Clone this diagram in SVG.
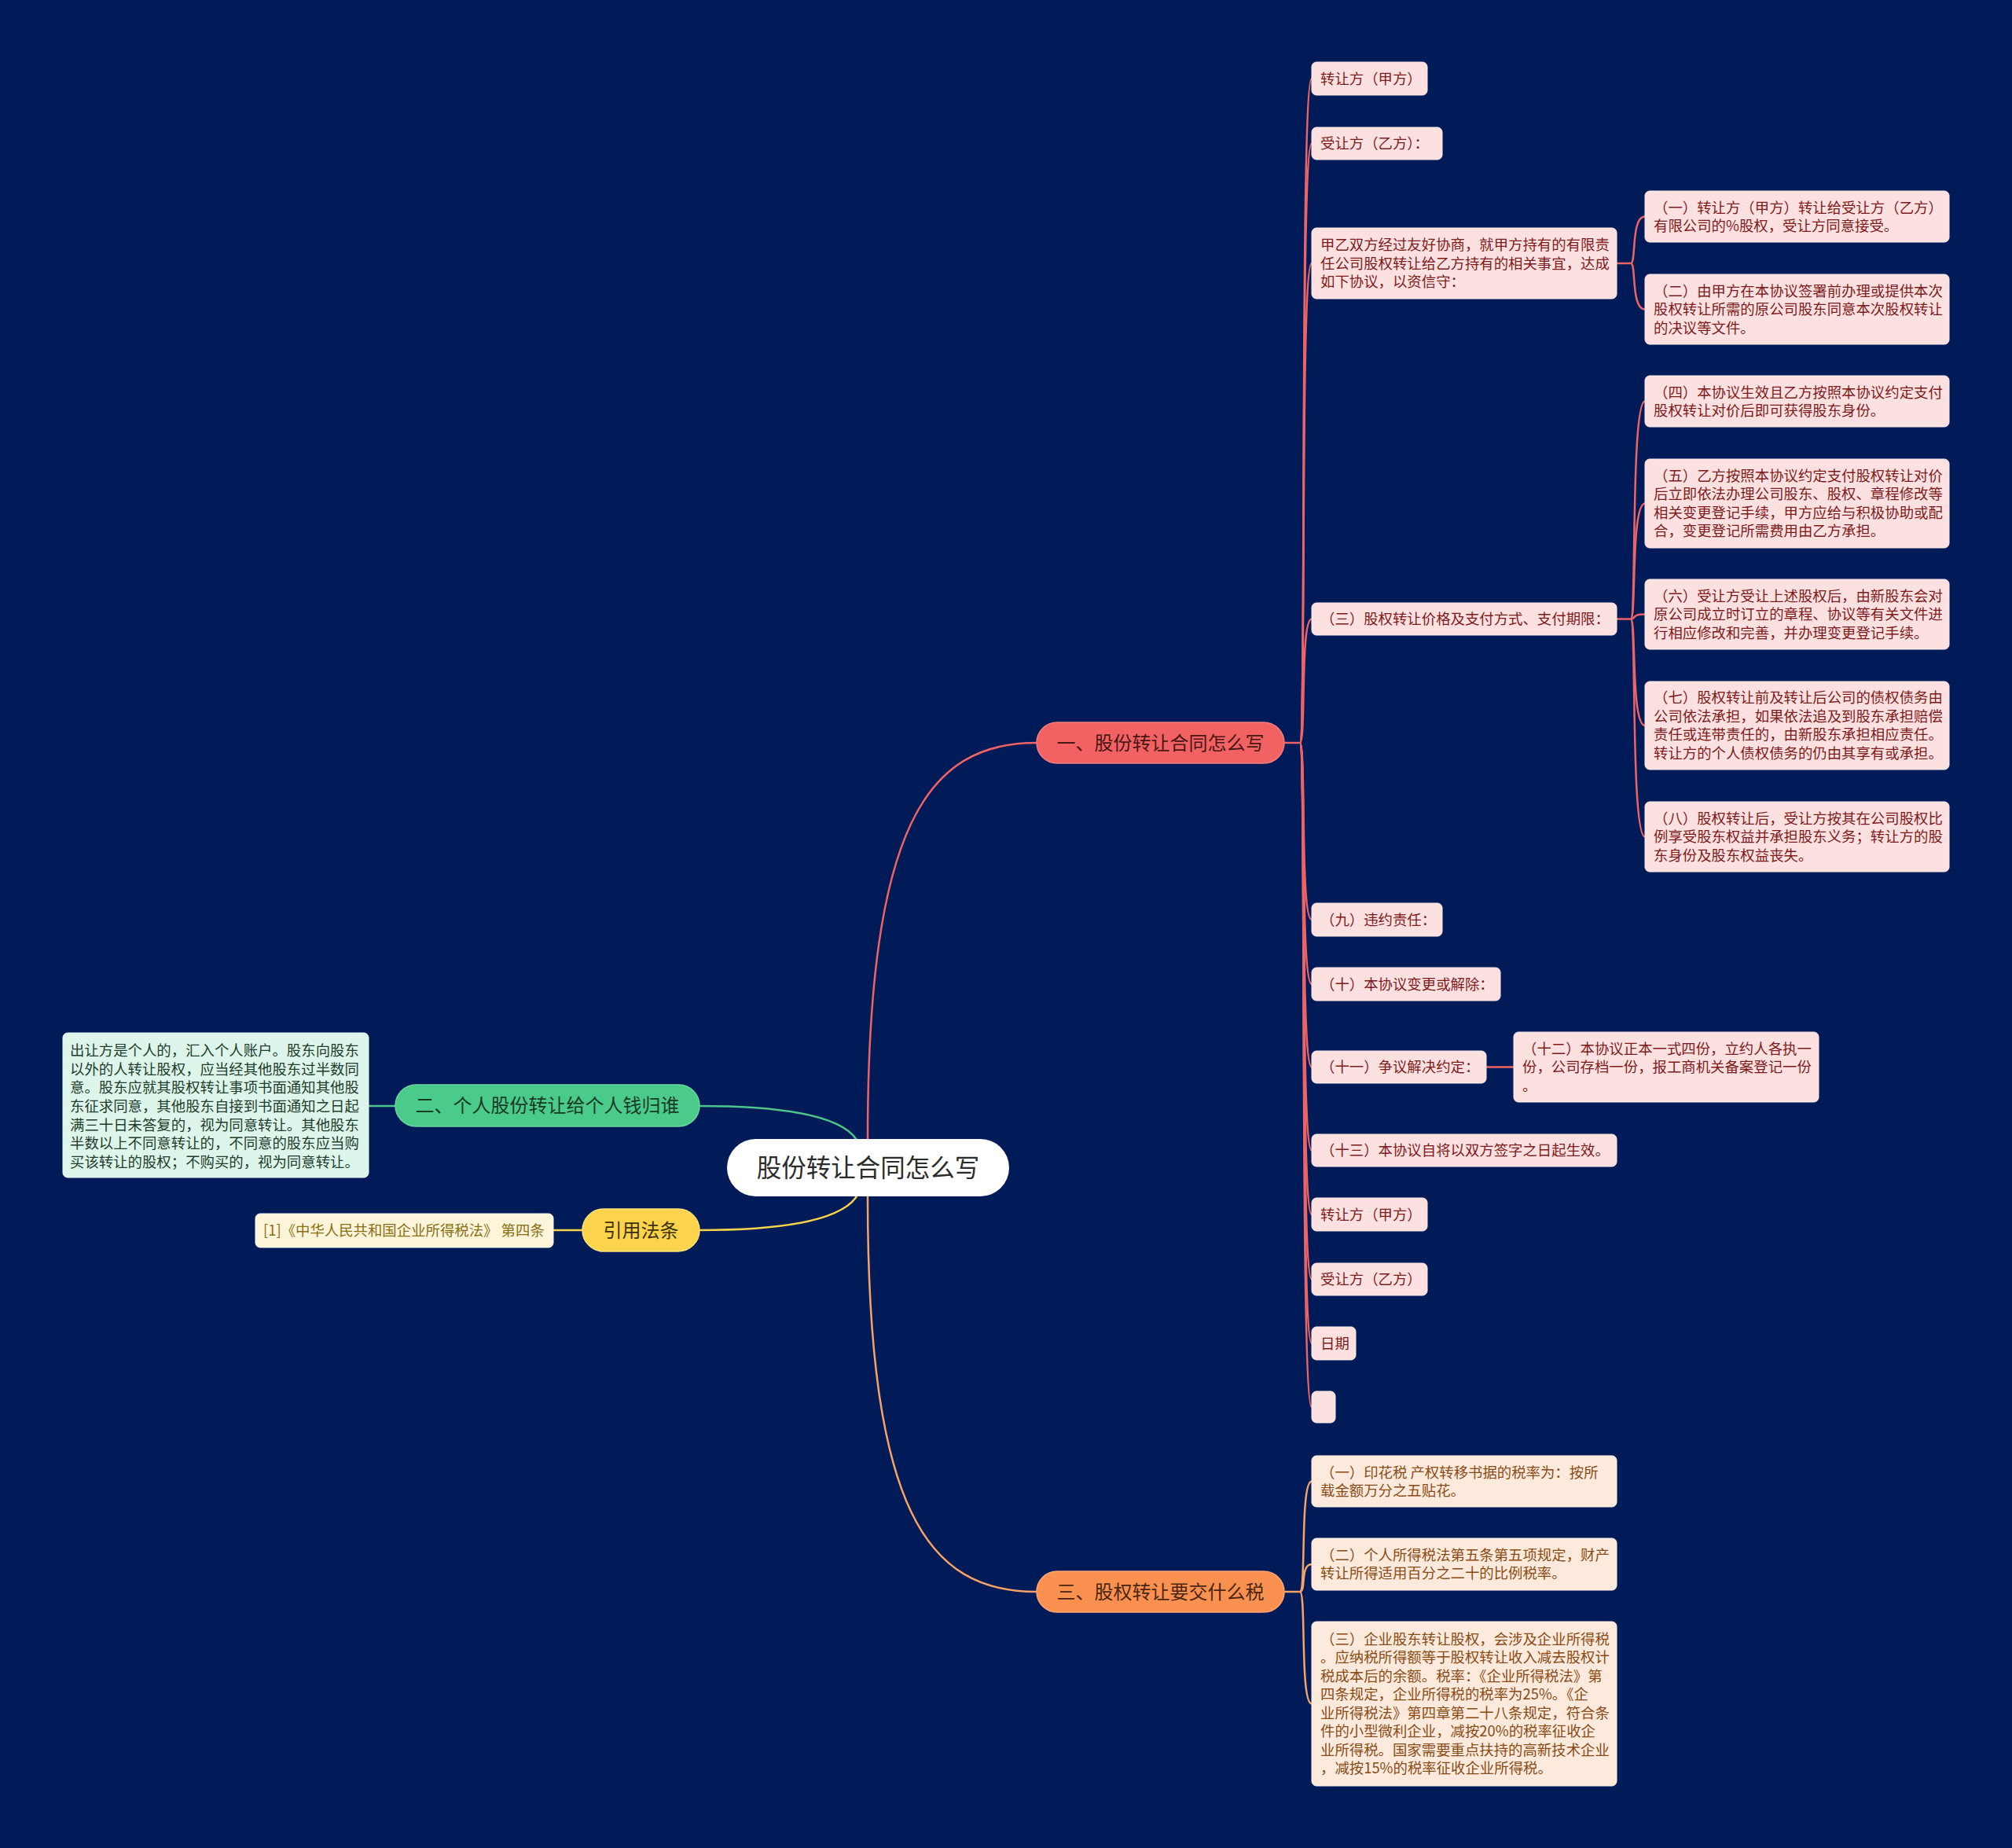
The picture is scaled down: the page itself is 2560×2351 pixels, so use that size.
<svg xmlns="http://www.w3.org/2000/svg" width="2560" height="2351" viewBox="0 0 2560 2351">
<style>
text{font-family:"Noto Sans CJK SC","Noto Sans",sans-serif;}
.t{font-size:18.4px;}
.tr{fill:#7d1a1a;}
.to{fill:#8a4a14;}
.tg{fill:#1e3d2c;}
.ty{fill:#8a6e12;}
.bp{fill:#fde1e1;stroke:#fbeaea;stroke-width:1;}
.bo{fill:#fdeadc;stroke:#fdf2ea;stroke-width:1;}
.bg{fill:#ddf5ea;stroke:#ecfaf3;stroke-width:1;}
.by{fill:#fcf5da;stroke:#fdf9ea;stroke-width:1;}
.main{font-size:24px;text-anchor:middle;}
.cr{fill:none;stroke:#ee6464;stroke-width:2.5;}
.co{fill:none;stroke:#f7a266;stroke-width:2.5;}
.cg{fill:none;stroke:#4cc48a;stroke-width:2.5;}
.cy{fill:none;stroke:#f5d34a;stroke-width:2.5;}
</style>
<rect x="0" y="0" width="2560" height="2351" fill="#011b58"/>

<g id="connectors">
<path class="cr" d="M1104 1450 C1104 1050 1180 945 1319 945"/>
<path class="co" d="M1104 1522 C1104 1922 1180 2025 1319 2025"/>
<path class="cg" d="M890 1407 C1000 1407 1070 1420 1090 1450"/>
<path class="cy" d="M890 1565 C1000 1565 1070 1552 1090 1522"/>
<path class="cg" d="M469 1407 L503 1407"/>
<path class="cy" d="M704 1565 L741 1565"/>
<path class="cr" d="M1634 945 L1654 945"/>
<path class="cr" d="M1654 945 C1662 945 1654 100 1669 100"/>
<path class="cr" d="M1654 945 C1662 945 1654 182.5 1669 182.5"/>
<path class="cr" d="M1654 945 C1662 945 1654 335 1669 335"/>
<path class="cr" d="M1654 945 C1662 945 1654 787.5 1669 787.5"/>
<path class="cr" d="M1654 945 C1662 945 1654 1170 1669 1170"/>
<path class="cr" d="M1654 945 C1662 945 1654 1252 1669 1252"/>
<path class="cr" d="M1654 945 C1662 945 1654 1357.5 1669 1357.5"/>
<path class="cr" d="M1654 945 C1662 945 1654 1463.5 1669 1463.5"/>
<path class="cr" d="M1654 945 C1662 945 1654 1545 1669 1545"/>
<path class="cr" d="M1654 945 C1662 945 1654 1627.5 1669 1627.5"/>
<path class="cr" d="M1654 945 C1662 945 1654 1709 1669 1709"/>
<path class="cr" d="M1654 945 C1662 945 1654 1790 1669 1790"/>
<path class="cr" d="M2057 335 L2075 335"/>
<path class="cr" d="M2075 335 C2082 335 2075 275.5 2093 275.5"/>
<path class="cr" d="M2075 335 C2082 335 2075 393.5 2093 393.5"/>
<path class="cr" d="M2057 787.5 L2075 787.5"/>
<path class="cr" d="M2075 787.5 C2082 787.5 2075 510.5 2093 510.5"/>
<path class="cr" d="M2075 787.5 C2082 787.5 2075 640.5 2093 640.5"/>
<path class="cr" d="M2075 787.5 C2082 787.5 2075 781.5 2093 781.5"/>
<path class="cr" d="M2075 787.5 C2082 787.5 2075 923 2093 923"/>
<path class="cr" d="M2075 787.5 C2082 787.5 2075 1064.5 2093 1064.5"/>
<path class="cr" d="M1891 1357.5 L1926 1357.5"/>
<path class="co" d="M1634 2025 L1654 2025"/>
<path class="co" d="M1654 2025 C1662 2025 1654 1884.5 1669 1884.5"/>
<path class="co" d="M1654 2025 C1662 2025 1654 1990 1669 1990"/>
<path class="co" d="M1654 2025 C1662 2025 1654 2167.5 1669 2167.5"/>
</g>

<g id="root">
<rect x="925" y="1449" width="359" height="73" rx="36.5" fill="#ffffff"/>
<text x="1104.5" y="1497" style="font-size:31.5px;fill:#2b2b2b;text-anchor:middle;">股份转让合同怎么写</text>
</g>

<g id="b1">
<rect x="1319" y="919" width="315" height="52" rx="26" fill="#f26262" stroke="#f47d7d" stroke-width="1.5"/>
<text class="main" x="1476.5" y="954" fill="#4a1616">一、股份转让合同怎么写</text>
</g>
<g id="b3">
<rect x="1319" y="1999" width="315" height="52" rx="26" fill="#fa9150" stroke="#fba670" stroke-width="1.5"/>
<text class="main" x="1476.5" y="2034" fill="#4a2610">三、股权转让要交什么税</text>
</g>
<g id="b2">
<rect x="503" y="1380" width="387" height="53" rx="26.5" fill="#4acb8a" stroke="#6ad6a0" stroke-width="1.5"/>
<text class="main" x="696.5" y="1415" fill="#1a3a28">二、个人股份转让给个人钱归谁</text>
</g>
<g id="b4">
<rect x="741" y="1538" width="149" height="54" rx="27" fill="#fcd44c" stroke="#fde07a" stroke-width="1.5"/>
<text class="main" x="815.5" y="1574" fill="#3d300a">引用法条</text>
</g>

<g id="n1">
<rect class="bp" x="1669" y="79" width="147" height="42" rx="6"/>
<text class="t tr" x="1680" y="106.5">转让方（甲方）</text>
</g>
<g id="n2">
<rect class="bp" x="1669" y="162" width="166" height="41" rx="6"/>
<text class="t tr" x="1680" y="189">受让方（乙方）：</text>
</g>
<g id="n3">
<rect class="bp" x="1669" y="290" width="388" height="90" rx="6"/>
<text class="t tr" x="1680" y="318">甲乙双方经过友好协商，就甲方持有的有限责</text>
<text class="t tr" x="1680" y="341.5">任公司股权转让给乙方持有的相关事宜，达成</text>
<text class="t tr" x="1680" y="365">如下协议，以资信守：</text>
</g>
<g id="n3a">
<rect class="bp" x="2093" y="243" width="387" height="65" rx="6"/>
<text class="t tr" x="2104" y="270.5">（一）转让方（甲方）转让给受让方（乙方）</text>
<text class="t tr" x="2104" y="294">有限公司的%股权，受让方同意接受。</text>
</g>
<g id="n3b">
<rect class="bp" x="2093" y="349" width="387" height="89" rx="6"/>
<text class="t tr" x="2104" y="376.5">（二）由甲方在本协议签署前办理或提供本次</text>
<text class="t tr" x="2104" y="400">股权转让所需的原公司股东同意本次股权转让</text>
<text class="t tr" x="2104" y="423.5">的决议等文件。</text>
</g>
<g id="n4">
<rect class="bp" x="1669" y="767" width="388" height="41" rx="6"/>
<text class="t tr" x="1680" y="794">（三）股权转让价格及支付方式、支付期限：</text>
</g>
<g id="n4a">
<rect class="bp" x="2093" y="478" width="387" height="65" rx="6"/>
<text class="t tr" x="2104" y="505.5">（四）本协议生效且乙方按照本协议约定支付</text>
<text class="t tr" x="2104" y="529">股权转让对价后即可获得股东身份。</text>
</g>
<g id="n4b">
<rect class="bp" x="2093" y="584" width="387" height="113" rx="6"/>
<text class="t tr" x="2104" y="611.75">（五）乙方按照本协议约定支付股权转让对价</text>
<text class="t tr" x="2104" y="635.25">后立即依法办理公司股东、股权、章程修改等</text>
<text class="t tr" x="2104" y="658.75">相关变更登记手续，甲方应给与积极协助或配</text>
<text class="t tr" x="2104" y="682.25">合，变更登记所需费用由乙方承担。</text>
</g>
<g id="n4c">
<rect class="bp" x="2093" y="737" width="387" height="89" rx="6"/>
<text class="t tr" x="2104" y="764.5">（六）受让方受让上述股权后，由新股东会对</text>
<text class="t tr" x="2104" y="788">原公司成立时订立的章程、协议等有关文件进</text>
<text class="t tr" x="2104" y="811.5">行相应修改和完善，并办理变更登记手续。</text>
</g>
<g id="n4d">
<rect class="bp" x="2093" y="867" width="387" height="112" rx="6"/>
<text class="t tr" x="2104" y="894.25">（七）股权转让前及转让后公司的债权债务由</text>
<text class="t tr" x="2104" y="917.75">公司依法承担，如果依法追及到股东承担赔偿</text>
<text class="t tr" x="2104" y="941.25">责任或连带责任的，由新股东承担相应责任。</text>
<text class="t tr" x="2104" y="964.75">转让方的个人债权债务的仍由其享有或承担。</text>
</g>
<g id="n4e">
<rect class="bp" x="2093" y="1020" width="387" height="89" rx="6"/>
<text class="t tr" x="2104" y="1047.5">（八）股权转让后，受让方按其在公司股权比</text>
<text class="t tr" x="2104" y="1071">例享受股东权益并承担股东义务；转让方的股</text>
<text class="t tr" x="2104" y="1094.5">东身份及股东权益丧失。</text>
</g>
<g id="n5">
<rect class="bp" x="1669" y="1149" width="166" height="42" rx="6"/>
<text class="t tr" x="1680" y="1176.5">（九）违约责任：</text>
</g>
<g id="n6">
<rect class="bp" x="1669" y="1231" width="240" height="42" rx="6"/>
<text class="t tr" x="1680" y="1258.5">（十）本协议变更或解除：</text>
</g>
<g id="n7">
<rect class="bp" x="1669" y="1337" width="222" height="41" rx="6"/>
<text class="t tr" x="1680" y="1364">（十一）争议解决约定：</text>
</g>
<g id="n7a">
<rect class="bp" x="1926" y="1313" width="388" height="89" rx="6"/>
<text class="t tr" x="1937" y="1340.5">（十二）本协议正本一式四份，立约人各执一</text>
<text class="t tr" x="1937" y="1364">份，公司存档一份，报工商机关备案登记一份</text>
<text class="t tr" x="1937" y="1387.5">。</text>
</g>
<g id="n8">
<rect class="bp" x="1669" y="1443" width="388" height="41" rx="6"/>
<text class="t tr" x="1680" y="1470">（十三）本协议自将以双方签字之日起生效。</text>
</g>
<g id="n9">
<rect class="bp" x="1669" y="1524" width="147" height="42" rx="6"/>
<text class="t tr" x="1680" y="1551.5">转让方（甲方）</text>
</g>
<g id="n10">
<rect class="bp" x="1669" y="1607" width="147" height="41" rx="6"/>
<text class="t tr" x="1680" y="1634">受让方（乙方）</text>
</g>
<g id="n11">
<rect class="bp" x="1669" y="1688" width="56" height="42" rx="6"/>
<text class="t tr" x="1680" y="1715.5">日期</text>
</g>
<g id="n12">
<rect class="bp" x="1669" y="1770" width="30" height="40" rx="6"/>
</g>

<g id="t1">
<rect class="bo" x="1669" y="1852" width="388" height="65" rx="6"/>
<text class="t to" x="1680" y="1879.5">（一）印花税 产权转移书据的税率为：按所</text>
<text class="t to" x="1680" y="1903">载金额万分之五贴花。</text>
</g>
<g id="t2">
<rect class="bo" x="1669" y="1957" width="388" height="66" rx="6"/>
<text class="t to" x="1680" y="1984.75">（二）个人所得税法第五条第五项规定，财产</text>
<text class="t to" x="1680" y="2008.25">转让所得适用百分之二十的比例税率。</text>
</g>
<g id="t3">
<rect class="bo" x="1669" y="2063" width="388" height="209" rx="6"/>
<text class="t to" x="1680" y="2091.75">（三）企业股东转让股权，会涉及企业所得税</text>
<text class="t to" x="1680" y="2115.25">。应纳税所得额等于股权转让收入减去股权计</text>
<text class="t to" x="1680" y="2138.75">税成本后的余额。税率：《企业所得税法》第</text>
<text class="t to" x="1680" y="2162.25">四条规定，企业所得税的税率为25%。《企</text>
<text class="t to" x="1680" y="2185.75">业所得税法》第四章第二十八条规定，符合条</text>
<text class="t to" x="1680" y="2209.25">件的小型微利企业，减按20%的税率征收企</text>
<text class="t to" x="1680" y="2232.75">业所得税。国家需要重点扶持的高新技术企业</text>
<text class="t to" x="1680" y="2256.25">，减按15%的税率征收企业所得税。</text>
</g>

<g id="g1">
<rect class="bg" x="80" y="1314" width="389" height="184" rx="6"/>
<text class="t tg" x="89" y="1342.5">出让方是个人的，汇入个人账户。股东向股东</text>
<text class="t tg" x="89" y="1366.5">以外的人转让股权，应当经其他股东过半数同</text>
<text class="t tg" x="89" y="1389.5">意。股东应就其股权转让事项书面通知其他股</text>
<text class="t tg" x="89" y="1413.5">东征求同意，其他股东自接到书面通知之日起</text>
<text class="t tg" x="89" y="1437.5">满三十日未答复的，视为同意转让。其他股东</text>
<text class="t tg" x="89" y="1460.5">半数以上不同意转让的，不同意的股东应当购</text>
<text class="t tg" x="89" y="1484.5">买该转让的股权；不购买的，视为同意转让。</text>
</g>

<g id="y1">
<rect class="by" x="325" y="1544" width="379" height="43" rx="6"/>
<text class="t ty" x="335" y="1572">[1]《中华人民共和国企业所得税法》 第四条</text>
</g>
</svg>
